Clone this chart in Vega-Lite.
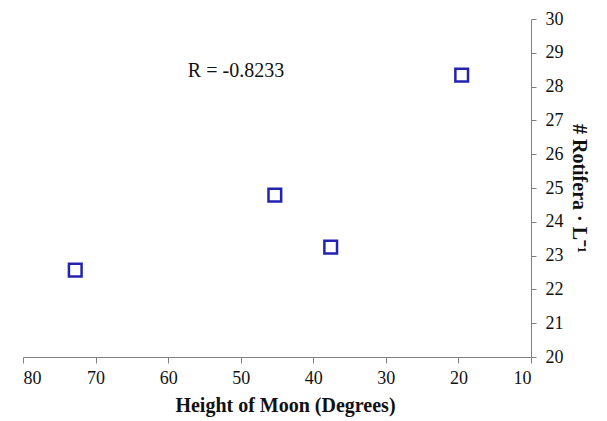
{
  "$schema": "https://vega.github.io/schema/vega-lite/v6.json",
  "width": 508,
  "height": 338,
  "autosize": {"type": "none"},
  "padding": {"left": 23, "top": 19, "right": 76, "bottom": 64},
  "background": "white",
  "config": {"view": {"stroke": null}},
  "data": {"values": [
    {"moon": 72.8, "rotifera": 22.57},
    {"moon": 45.3, "rotifera": 24.79},
    {"moon": 37.6, "rotifera": 23.25},
    {"moon": 19.55, "rotifera": 28.34}
  ]},
  "encoding": {
    "x": {"field": "moon", "type": "quantitative",
      "scale": {"domain": [10, 80], "reverse": true, "nice": false, "zero": false},
      "axis": {"title": "Height of Moon (Degrees)", "values": [80,70,60,50,40,30,20,10], "grid": false, "labelOverlap": false,
        "domainColor": "#808080", "tickColor": "#808080", "tickSize": 6, "labelFont": "Liberation Serif", "labelFontSize": 18, "labelColor": "#111",
        "labelPadding": 6, "titleFont": "Liberation Serif", "titleFontSize": 20, "titleFontWeight": "bold", "titleColor": "#111", "titlePadding": 8, "titleX": 262}},
    "y": {"field": "rotifera", "type": "quantitative",
      "scale": {"domain": [20, 30], "nice": false, "zero": false},
      "axis": {"orient": "right", "title": "# Rotifera · L⁻¹", "values": [20,21,22,23,24,25,26,27,28,29,30], "grid": false, "labelOverlap": false,
        "domainColor": "#808080", "tickColor": "#808080", "tickSize": 5, "labelFont": "Liberation Serif", "labelFontSize": 18, "labelColor": "#111",
        "labelPadding": 9, "titleFont": "Liberation Serif", "titleFontSize": 20, "titleFontWeight": "bold", "titleColor": "#111", "titlePadding": 5}}
  },
  "layer": [
    {
      "mark": {"type": "point", "shape": "square", "filled": false, "stroke": "#2323b0", "strokeWidth": 2.5, "size": 160, "opacity": 1}
    },
    {
      "data": {"values": [{"moon": 50.65, "rotifera": 28.46, "label": "R = -0.8233"}]},
      "mark": {"type": "text", "font": "Liberation Serif", "fontSize": 20, "color": "#111"},
      "encoding": {
        "text": {"field": "label"}
      }
    }
  ]
}
